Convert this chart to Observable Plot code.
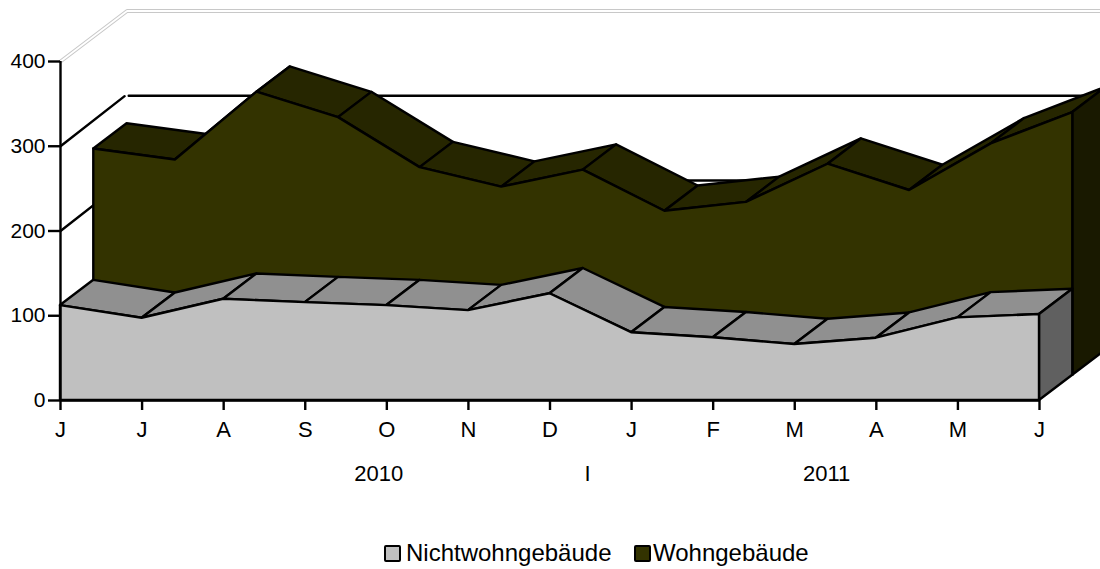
<!DOCTYPE html>
<html>
<head>
<meta charset="utf-8">
<script src="https://cdn.jsdelivr.net/npm/d3@7"></script>
<script src="https://cdn.jsdelivr.net/npm/@observablehq/plot@0.6"></script>
<style>
html,body{margin:0;padding:0;background:#fff;overflow:hidden;width:1100px;height:569px;font-family:"Liberation Sans",Arial,sans-serif;}
#legend{position:absolute;left:0;top:535px;width:1100px;height:34px;font-size:24px;color:#000;}
#legend .sw{position:absolute;top:10px;width:13px;height:13px;border:2.5px solid #000;border-radius:2px;}
#legend .lb{position:absolute;top:4px;line-height:28px;white-space:nowrap;}
</style>
</head>
<body>
<div id="chart"></div>
<div id="legend"></div>
<script>
// Data
const months = ["J","J","A","S","O","N","D","J","F","M","A","M","J"];
const nichtwohngebaeude = [112,97,119.5,115.5,112,106,126,80,74,66,73.5,97.5,101.5];
const wohngebaeude = [267,254,334,304,245,222,242,193.5,204,249,218,273,310];
const yearLabels = ["2010","I","2011"];
const yearPositions = [3.9,6.46,9.39];
const yTicks = [0,100,200,300,400];
const seriesNames = ["Nichtwohngebäude","Wohngebäude"];
const faceColors = ["#c0c0c0","#333300"];
const topColors = ["#909090","#262600"];
const sideColors = ["#606060","#191900"];

// One layer of depth, in scale units
const depthX = 0.408;
const depthY = 29.8;
const idx = d3.range(months.length);
const sw = 2.4;

function layer(values, k, c){
  const ox = k*depthX, oy = k*depthY;
  const quads = idx.slice(0,-1).flatMap(i => [i,i+1].map(j => ({
    z:i, x:j+ox, y:values[j]+oy, x2:j+ox+depthX, y2:values[j]+oy+depthY
  })));
  const last = idx.length-1, top = values[last];
  const side = [0,1].map(n => ({
    x:last+ox+n*depthX, y1:top+oy+n*depthY, y2:oy+n*depthY
  }));
  const face = idx.map(i => ({x:i+ox, y1:values[i]+oy, y2:oy}));
  const line = {stroke:"#000", strokeWidth:sw, strokeLinejoin:"round"};
  return [
    Plot.area(quads,{x1:"x",y1:"y",x2:"x2",y2:"y2",z:"z",fill:topColors[c],...line}),
    Plot.areaY(side,{x:"x",y1:"y1",y2:"y2",fill:sideColors[c],...line}),
    Plot.areaY(face,{x:"x",y1:"y1",y2:"y2",fill:faceColors[c],...line})
  ];
}

const wallX = 2*depthX, wallY = 2*depthY, farX = 13;
const grid = [100,200,300];
const gridDiag = grid.flatMap(v => [{v,x:0,y:v},{v,x:wallX-0.03,y:v+wallY-0.5}]);
const gridBack = grid.flatMap(v => [{v,x:wallX+0.02,y:v+wallY},{v,x:farX,y:v+wallY}]);
const wallTop = [{x:0,y:400},{x:wallX,y:400+wallY},{x:farX,y:400+wallY}];

const chart = Plot.plot({
  width:1100, height:530,
  marginLeft:60, marginRight:61, marginTop:61, marginBottom:130,
  style:{fontFamily:"'Liberation Sans',Arial,sans-serif", background:"transparent", overflow:"visible"},
  x:{domain:[0,12], axis:null},
  y:{domain:[0,400], axis:null},
  marks:[
    Plot.line(wallTop,{x:"x",y:"y",stroke:"#c8c8c8",strokeWidth:3.8}),
    Plot.line(wallTop,{x:"x",y:"y",stroke:"#fff",strokeWidth:1.8}),
    Plot.line(gridDiag,{x:"x",y:"y",z:"v",stroke:"#000",strokeWidth:sw}),
    Plot.line(gridBack,{x:"x",y:"y",z:"v",stroke:"#000",strokeWidth:sw}),
    ...layer(wohngebaeude,1,1),
    ...layer(nichtwohngebaeude,0,0),
    Plot.axisX({ticks:idx, tickFormat:i=>months[i], tickSize:10, tickPadding:11, fontSize:22, strokeWidth:sw, stroke:"#000", fill:"#000", label:null, anchor:"bottom"}),
    Plot.axisY({ticks:yTicks, tickSize:12, tickPadding:3, fontSize:21, strokeWidth:sw, stroke:"#000", fill:"#000", label:null, anchor:"left"}),
    Plot.ruleX([0],{y1:0,y2:400,stroke:"#000",strokeWidth:sw}),
    Plot.ruleY([0],{x1:0,x2:12,stroke:"#000",strokeWidth:sw}),
    Plot.text(yearLabels,{x:(d,i)=>yearPositions[i],y:()=>0,text:d=>d,dy:73,fontSize:22,fill:"#000"})
  ]
});
document.getElementById("chart").appendChild(chart);

const legend = d3.select("#legend");
const swatchX = [384,634], labelX = [406,653];
seriesNames.forEach((n,i)=>{
  legend.append("div").attr("class","sw").style("left",swatchX[i]+"px").style("background",faceColors[i]);
  legend.append("div").attr("class","lb").style("left",labelX[i]+"px").text(n);
});
</script>
</body>
</html>
